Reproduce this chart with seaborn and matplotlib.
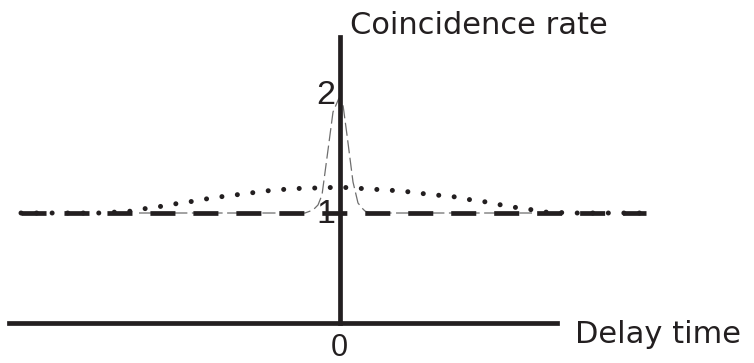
import matplotlib
matplotlib.use("Agg")
import matplotlib.pyplot as plt
import seaborn as sns
import numpy as np

# ---- data (delay time in arbitrary units, coincidence rate normalised) ----
# coherent light: flat g2 = 1
tau_coherent = [-3.19, 3.06]
g2_coherent = [1.0, 1.0]

# broad bunching curve (dotted)
tau_broad = [-3.19, -2.87, -2.40, -2.07, -1.92, -1.76, -1.60, -1.45, -1.29, -1.13,
             -0.97, -0.82, -0.66, -0.50, -0.34, -0.18, -0.02, 0.14, 0.30, 0.46,
             0.62, 0.78, 0.94, 1.10, 1.25, 1.41, 1.56, 1.72, 1.88, 2.03, 2.35, 2.67, 3.00]
g2_broad = [1.0, 1.0, 1.0, 1.018, 1.045, 1.064, 1.091, 1.109, 1.136, 1.155,
            1.173, 1.191, 1.209, 1.218, 1.227, 1.227, 1.236, 1.227, 1.218, 1.209,
            1.200, 1.182, 1.164, 1.155, 1.127, 1.109, 1.082, 1.055, 1.036, 1.009, 1.0, 1.0, 1.0]

# narrow bunching peak (thin grey dashed)
tau_narrow = [-2.01, -0.35, -0.27, -0.22, -0.18, -0.12, -0.07, -0.01, 0.03, 0.07,
              0.13, 0.18, 0.22, 0.25, 0.30, 1.92]
g2_narrow = [1.0, 1.0, 1.027, 1.073, 1.164, 1.573, 1.918, 2.045, 1.982, 1.709,
             1.282, 1.091, 1.045, 1.018, 1.0, 1.0]

x_label = "Delay time"
y_label = "Coincidence rate"
y_tick_values = [1, 2]
y_tick_labels = ["1", "2"]
x_tick_labels = ["0"]

INK = "#231f20"
W, H = 754, 363

sns.set_style("white")
fig = plt.figure(figsize=(W / 100, H / 100), dpi=100)
ax = fig.add_axes([0, 0, 1, 1])

sns.lineplot(x=tau_narrow, y=g2_narrow, ax=ax, color="#6e6e6e", linewidth=0.9,
             linestyle=(0, (10.5, 3.6)), estimator=None, sort=False, zorder=2)
sns.lineplot(x=tau_coherent, y=g2_coherent, ax=ax, color=INK, linewidth=3.4,
             linestyle=(0, (5.3, 3.8)), estimator=None, sort=False, zorder=3,
             dash_capstyle="butt")
sns.lineplot(x=tau_broad, y=g2_broad, ax=ax, color=INK, linewidth=3.6,
             linestyle=(0, (0.01, 3.1)), estimator=None, sort=False, zorder=4,
             dash_capstyle="round")

# axes geometry
ax.set_xlim(-3.40, 4.14)
ax.set_ylim(-0.3636, 2.9364)
for s in ["top", "right"]:
    ax.spines[s].set_visible(False)
for s in ["left", "bottom"]:
    ax.spines[s].set_position(("data", 0))
    ax.spines[s].set_linewidth(3.4)
    ax.spines[s].set_color(INK)
    ax.spines[s].set_zorder(5)
ax.spines["left"].set_bounds(0, 2.6)
ax.spines["bottom"].set_bounds(-3.31, 2.17)
ax.set_xticks([])
ax.set_yticks([])
ax.set_xlabel("")
ax.set_ylabel("")
ax.patch.set_visible(False)

def px(x, y):
    return x / W, 1 - y / H

title_font = dict(family=["DejaVu Sans"], size=22, color=INK)
digit_font = dict(family=["Liberation Sans"], size=24.5, color=INK)

fig.text(*px(350, 33.5), y_label, ha="left", va="baseline", **title_font)
fig.text(*px(575, 343), x_label, ha="left", va="baseline", **title_font)

tick_baselines = {1: 223, 2: 104}
for v, lab in zip(y_tick_values, y_tick_labels):
    fig.text(*px(335, tick_baselines[v]), lab, ha="right", va="baseline", **digit_font)
fig.text(*px(339.5, 362.5), x_tick_labels[0], ha="center", va="bottom",
         family=["Liberation Sans"], size=22, color=INK)

fig.savefig("out.png", dpi=100)
